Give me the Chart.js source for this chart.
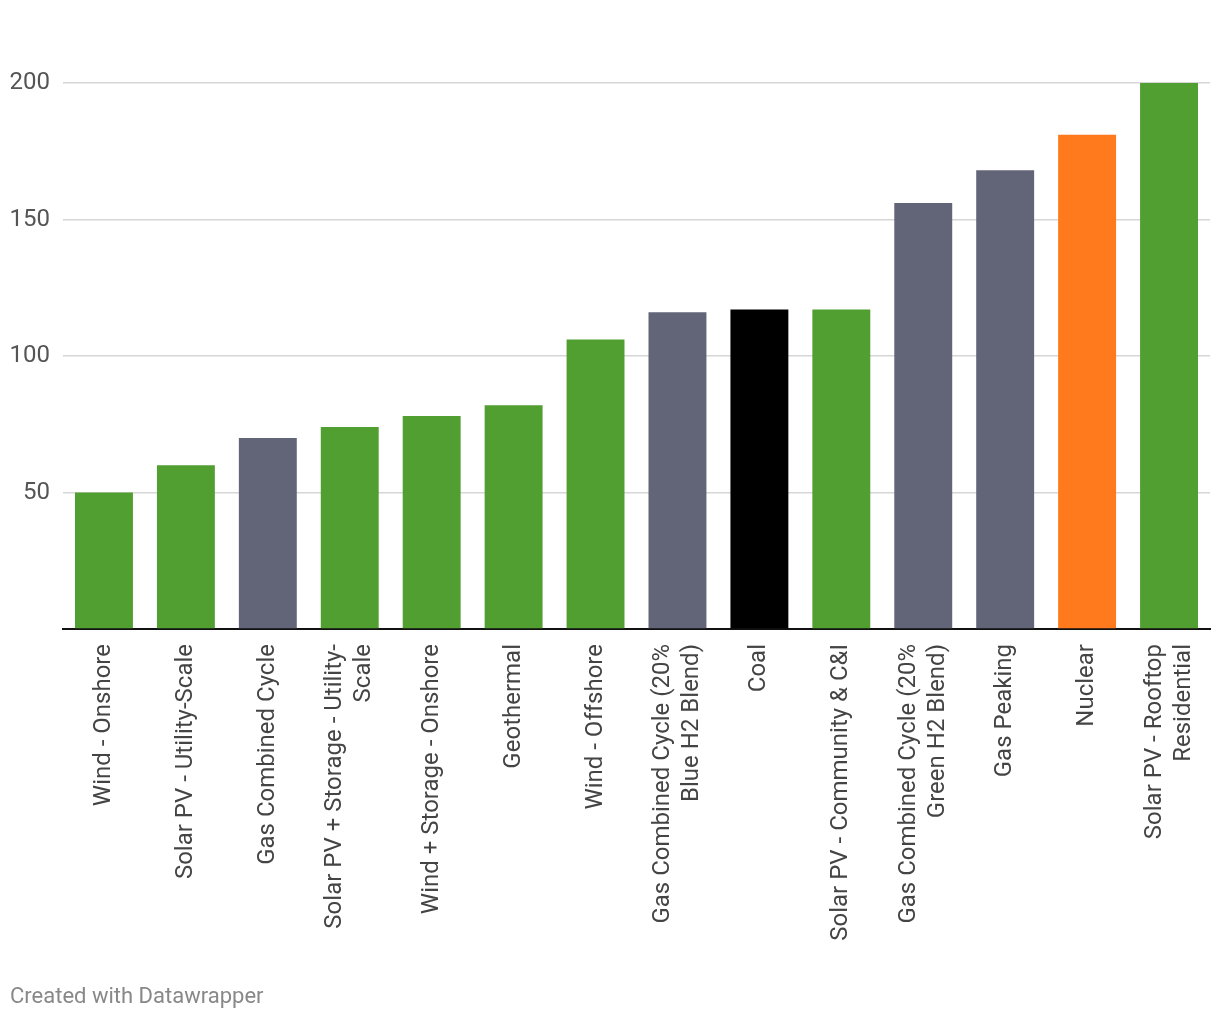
<!DOCTYPE html>
<html><head><meta charset="utf-8">
<script src="https://cdn.jsdelivr.net/npm/chart.js@4"></script>
<style>
body{margin:0;background:#fff;font-family:Roboto,sans-serif;}
#wrap{position:relative;width:1220px;height:1020px;}
#footer{position:absolute;left:10px;top:983px;font-size:22px;color:#888;font-family:Roboto,sans-serif;}
</style></head><body>
<div id="wrap"><canvas id="c" width="1220" height="1020"></canvas>
<div id="footer">Created with Datawrapper</div></div>
<script>
const categories = [
  "Wind - Onshore",
  "Solar PV - Utility-Scale",
  "Gas Combined Cycle",
  ["Solar PV + Storage - Utility-","Scale"],
  "Wind + Storage - Onshore",
  "Geothermal",
  "Wind - Offshore",
  ["Gas Combined Cycle (20%","Blue H2 Blend)"],
  "Coal",
  "Solar PV - Community & C&I",
  ["Gas Combined Cycle (20%","Green H2 Blend)"],
  "Gas Peaking",
  "Nuclear",
  ["Solar PV - Rooftop","Residential"]
];
const values = [50, 60, 70, 74, 78, 82, 106, 116, 117, 117, 156, 168, 181, 200];
const barColors = ["#519e31","#519e31","#626478","#519e31","#519e31","#519e31","#519e31","#626478","#000000","#519e31","#626478","#626478","#fe7a1d","#519e31"];
const yTicks = [0, 50, 100, 150, 200];

const xLabelPlugin = {
  id: 'xLabels',
  afterDraw(chart) {
    const ctx = chart.ctx, xs = chart.scales.x;
    const lh = 29;
    ctx.save();
    ctx.font = '24px Roboto';
    ctx.fillStyle = '#444';
    ctx.textAlign = 'right';
    ctx.textBaseline = 'middle';
    chart.data.labels.forEach((lab, i) => {
      const lines = Array.isArray(lab) ? lab : [lab];
      const px = xs.getPixelForTick(i);
      ctx.save();
      ctx.translate(px, xs.top + 15);
      ctx.rotate(-Math.PI / 2);
      lines.forEach((ln, j) => {
        ctx.fillText(ln, 0, (j - (lines.length - 1) / 2) * lh);
      });
      ctx.restore();
    });
    ctx.restore();
  }
};

new Chart(document.getElementById('c'), {
  type: 'bar',
  data: { labels: categories, datasets: [{ data: values, backgroundColor: barColors, categoryPercentage: 1, barPercentage: 0.707 }] },
  plugins: [xLabelPlugin],
  options: {
    responsive: false, animation: false,
    layout: { padding: { top: 83, right: 10, left: 0, bottom: 0 } },
    plugins: { legend: { display: false }, tooltip: { enabled: false } },
    scales: {
      x: {
        grid: { display: false, drawTicks: false },
        border: { display: true, color: '#111', width: 2 },
        afterFit: s => { s.height = 391; s.paddingLeft = 0; s.paddingRight = 0; },
        ticks: { display: false, autoSkip: false }
      },
      y: {
        min: 0, max: 200,
        afterBuildTicks: s => { s.ticks = yTicks.map(v => ({ value: v })); },
        afterFit: s => { s.width = 63; s.paddingTop = 0; s.paddingBottom = 0; },
        grid: { color: ctx => ctx.tick && ctx.tick.value === 0 ? 'rgba(0,0,0,0)' : '#d6d6d6', lineWidth: 1.5, drawTicks: false },
        border: { display: false },
        ticks: { padding: 13, color: '#555', font: { family: 'Roboto', size: 24 }, callback: v => v === 0 ? '' : v }
      }
    }
  }
});
</script></body></html>
